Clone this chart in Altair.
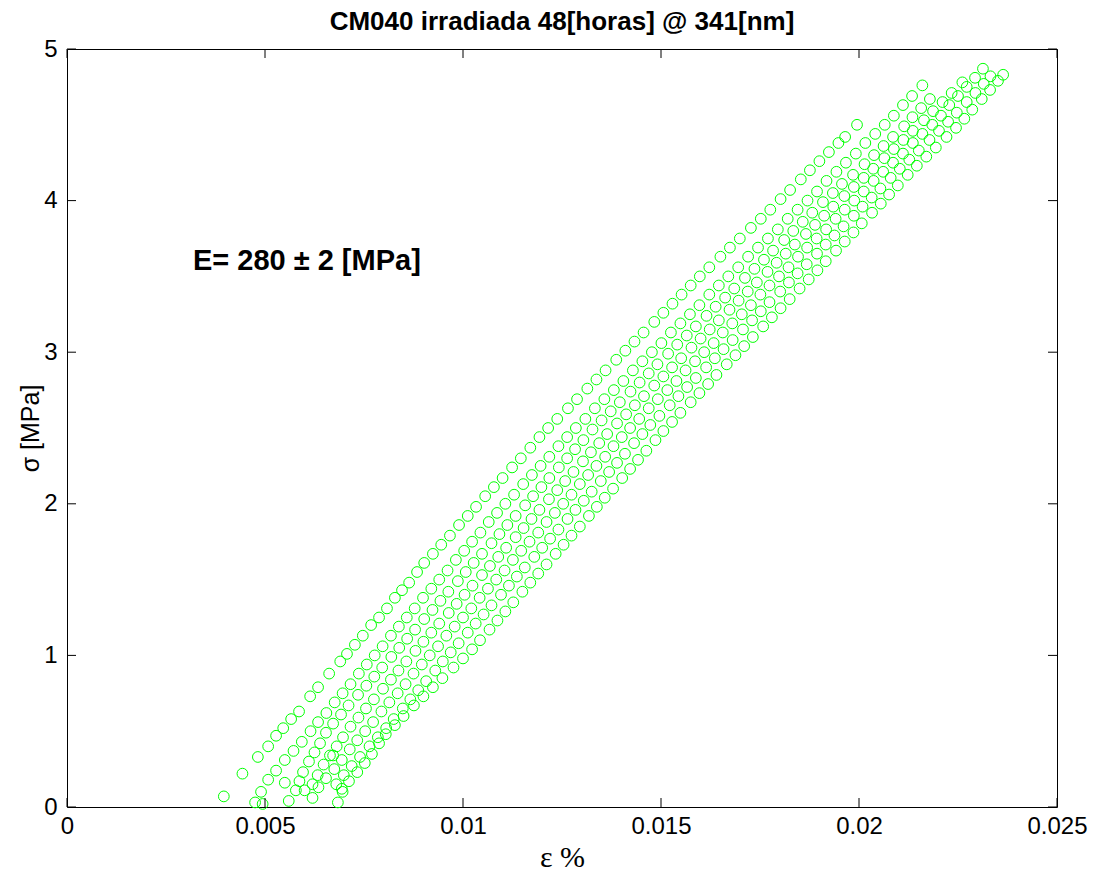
import altair as alt
import pandas as pd

title_text = "CM040 irradiada 48[horas] @ 341[nm]"
annotation_text = "E= 280 \u00b1 2 [MPa]"
x_label = "\u03b5 %"
y_label = "\u03c3 [MPa]"
x_ticks = [0, 0.005, 0.01, 0.015, 0.02, 0.025]
y_ticks = [0, 1, 2, 3, 4, 5]

# (strain, stress) read along each visible loading streak
streak_a = [(0.00396,0.07),(0.00443,0.22),(0.00482,0.33),(0.00508,0.40),(0.00528,0.47),(0.00546,0.52),
(0.00566,0.58),(0.00586,0.63),(0.00614,0.73),(0.00634,0.79),(0.00662,0.88),(0.00690,0.96),(0.00707,1.01),
(0.00727,1.07),(0.00747,1.13),(0.00768,1.20),(0.00788,1.25),(0.00808,1.31),(0.00828,1.38),(0.00846,1.43),
(0.00864,1.48),(0.00884,1.55),(0.00902,1.61),(0.00924,1.67),(0.00945,1.73),(0.00967,1.79),(0.00990,1.86),
(0.01012,1.92),(0.01033,1.98),(0.01056,2.05),(0.01078,2.11),(0.01100,2.17),(0.01124,2.24),(0.01146,2.30),
(0.01170,2.37),(0.01193,2.44),(0.01215,2.50),(0.01238,2.56),(0.01265,2.63),(0.01288,2.69),(0.01314,2.76),
(0.01337,2.82),(0.01360,2.88),(0.01387,2.95),(0.01410,3.01),(0.01433,3.07),(0.01456,3.13),(0.01483,3.20),
(0.01506,3.26),(0.01529,3.32),(0.01552,3.38),(0.01575,3.44),(0.01598,3.50),(0.01622,3.56),(0.01650,3.63),
(0.01674,3.69),(0.01699,3.75),(0.01727,3.82),(0.01752,3.88),(0.01776,3.94),(0.01802,4.01),(0.01826,4.07),
(0.01853,4.14),(0.01876,4.20),(0.01900,4.26),(0.01924,4.32),(0.01948,4.38),(0.01965,4.42),(0.01995,4.50)]

streak_b = [(0.00475,0.03),(0.00494,0.02),(0.00490,0.10),(0.00508,0.18),(0.00528,0.24),(0.00550,0.31),
(0.00572,0.37),(0.00593,0.43),(0.00615,0.50),(0.00634,0.56),(0.00655,0.62),(0.00676,0.69),(0.00696,0.75),
(0.00716,0.81),(0.00737,0.88),(0.00757,0.94),(0.00777,1.00),(0.00797,1.06),(0.00818,1.13),(0.00838,1.19),
(0.00858,1.25),(0.00878,1.31),(0.00899,1.38),(0.00920,1.44),(0.00940,1.50),(0.00961,1.56),(0.00982,1.63),
(0.01003,1.69),(0.01023,1.75),(0.01044,1.81),(0.01065,1.88),(0.01086,1.94),(0.01107,2.00),(0.01129,2.06),
(0.01152,2.13),(0.01174,2.19),(0.01196,2.25),(0.01218,2.31),(0.01241,2.38),(0.01263,2.44),(0.01285,2.50),
(0.01309,2.56),(0.01333,2.63),(0.01357,2.69),(0.01381,2.75),(0.01405,2.81),(0.01429,2.88),(0.01453,2.94),
(0.01477,3.00),(0.01501,3.06),(0.01525,3.13),(0.01549,3.19),(0.01573,3.25),(0.01597,3.31),(0.01622,3.38),
(0.01646,3.44),(0.01670,3.50),(0.01695,3.56),(0.01720,3.63),(0.01745,3.69),(0.01770,3.75),(0.01795,3.81),
(0.01820,3.88),(0.01845,3.94),(0.01870,4.00),(0.01894,4.06),(0.01918,4.13),(0.01943,4.19),(0.01967,4.25),
(0.01992,4.31),(0.02016,4.38),(0.02041,4.44),(0.02065,4.50),(0.02088,4.56),(0.02111,4.63),(0.02134,4.69),
(0.02160,4.76)]

streak_c = [(0.00560,0.04),(0.00578,0.11),(0.00587,0.17),(0.00596,0.23),(0.00611,0.30),(0.00625,0.36),
(0.00639,0.42),(0.00654,0.49),(0.00672,0.55),(0.00692,0.61),(0.00711,0.67),(0.00735,0.74),(0.00756,0.80),
(0.00776,0.86),(0.00796,0.92),(0.00819,0.99),(0.00839,1.05),(0.00859,1.11),(0.00879,1.17),(0.00902,1.24),
(0.00923,1.30),(0.00943,1.36),(0.00963,1.42),(0.00987,1.49),(0.01007,1.55),(0.01027,1.61),(0.01048,1.67),
(0.01072,1.74),(0.01092,1.80),(0.01112,1.86),(0.01133,1.92),(0.01157,1.99),(0.01177,2.05),(0.01198,2.11),
(0.01218,2.17),(0.01242,2.24),(0.01263,2.30),(0.01283,2.36),(0.01304,2.42),(0.01327,2.49),(0.01350,2.55),
(0.01373,2.61),(0.01396,2.67),(0.01423,2.74),(0.01446,2.80),(0.01469,2.86),(0.01491,2.92),(0.01518,2.99),
(0.01541,3.05),(0.01565,3.11),(0.01588,3.17),(0.01615,3.24),(0.01638,3.30),(0.01662,3.36),(0.01685,3.42),
(0.01712,3.49),(0.01736,3.55),(0.01760,3.61),(0.01783,3.67),(0.01811,3.74),(0.01834,3.80),(0.01858,3.86),
(0.01882,3.92),(0.01909,3.99),(0.01934,4.05),(0.01957,4.11),(0.01985,4.17),(0.02014,4.24),(0.02038,4.30),
(0.02062,4.36),(0.02086,4.42),(0.02114,4.49),(0.02135,4.55),(0.02157,4.61),(0.02179,4.67)]

streak_d = [(0.00620,0.15),(0.00633,0.21),(0.00648,0.28),(0.00664,0.34),(0.00681,0.40),(0.00697,0.46),
(0.00716,0.53),(0.00736,0.59),(0.00755,0.65),(0.00775,0.71),(0.00798,0.78),(0.00818,0.84),(0.00837,0.90),
(0.00857,0.96),(0.00880,1.03),(0.00900,1.09),(0.00920,1.15),(0.00940,1.21),(0.00964,1.28),(0.00984,1.34),
(0.01004,1.40),(0.01024,1.46),(0.01048,1.53),(0.01068,1.59),(0.01089,1.65),(0.01109,1.71),(0.01133,1.78),
(0.01153,1.84),(0.01173,1.90),(0.01193,1.96),(0.01217,2.03),(0.01238,2.09),(0.01258,2.15),(0.01279,2.21),
(0.01303,2.28),(0.01323,2.34),(0.01344,2.40),(0.01364,2.46),(0.01389,2.53),(0.01412,2.59),(0.01434,2.65),
(0.01457,2.71),(0.01483,2.78),(0.01506,2.84),(0.01528,2.90),(0.01551,2.96),(0.01577,3.03),(0.01600,3.09),
(0.01623,3.15),(0.01646,3.21),(0.01673,3.28),(0.01696,3.34),(0.01719,3.40),(0.01742,3.46),(0.01769,3.53),
(0.01792,3.59),(0.01815,3.65),(0.01838,3.71),(0.01866,3.78),(0.01889,3.84),(0.01912,3.90),(0.01935,3.96),
(0.01963,4.03),(0.01987,4.09),(0.02012,4.15),(0.02036,4.21),(0.02064,4.28),(0.02088,4.34),(0.02112,4.40),
(0.02136,4.46),(0.02164,4.53),(0.02187,4.59),(0.02211,4.65),(0.02234,4.71),(0.02261,4.78)]

streak_e = [(0.00620,0.06),(0.00635,0.13),(0.00654,0.19),(0.00675,0.25),(0.00694,0.31),(0.00714,0.38),
(0.00733,0.44),(0.00753,0.50),(0.00773,0.56),(0.00794,0.63),(0.00814,0.69),(0.00835,0.75),(0.00855,0.81),
(0.00875,0.88),(0.00896,0.94),(0.00916,1.00),(0.00937,1.06),(0.00958,1.13),(0.00979,1.19),(0.01000,1.25),
(0.01021,1.31),(0.01042,1.38),(0.01063,1.44),(0.01084,1.50),(0.01105,1.56),(0.01126,1.63),(0.01147,1.69),
(0.01168,1.75),(0.01190,1.81),(0.01211,1.88),(0.01232,1.94),(0.01253,2.00),(0.01274,2.06),(0.01295,2.13),
(0.01316,2.19),(0.01337,2.25),(0.01359,2.31),(0.01380,2.38),(0.01401,2.44),(0.01422,2.50),(0.01445,2.56),
(0.01469,2.63),(0.01492,2.69),(0.01516,2.75),(0.01539,2.81),(0.01562,2.88),(0.01586,2.94),(0.01609,3.00),
(0.01633,3.06),(0.01656,3.13),(0.01680,3.19),(0.01704,3.25),(0.01727,3.31),(0.01751,3.38),(0.01774,3.44),
(0.01798,3.50),(0.01822,3.56),(0.01846,3.63),(0.01869,3.69),(0.01893,3.75),(0.01917,3.81),(0.01941,3.88),
(0.01964,3.94),(0.01988,4.00),(0.02012,4.06),(0.02037,4.13),(0.02061,4.19),(0.02086,4.25),(0.02111,4.31),
(0.02136,4.38),(0.02160,4.44),(0.02185,4.50),(0.02207,4.56),(0.02228,4.63),(0.02250,4.69),(0.02272,4.75),
(0.02293,4.81),(0.02313,4.87)]

streak_f = [(0.00680,0.15),(0.00699,0.21),(0.00719,0.27),(0.00740,0.33),(0.00764,0.40),(0.00785,0.46),
(0.00806,0.52),(0.00825,0.58),(0.00848,0.65),(0.00867,0.71),(0.00887,0.77),(0.00907,0.83),(0.00930,0.90),
(0.00949,0.96),(0.00969,1.02),(0.00989,1.08),(0.01012,1.15),(0.01032,1.21),(0.01052,1.27),(0.01072,1.33),
(0.01096,1.40),(0.01116,1.46),(0.01136,1.52),(0.01156,1.58),(0.01180,1.65),(0.01200,1.71),(0.01220,1.77),
(0.01241,1.83),(0.01264,1.90),(0.01284,1.96),(0.01305,2.02),(0.01325,2.08),(0.01348,2.15),(0.01369,2.21),
(0.01389,2.27),(0.01409,2.33),(0.01432,2.40),(0.01453,2.46),(0.01473,2.52),(0.01496,2.58),(0.01522,2.65),
(0.01544,2.71),(0.01566,2.77),(0.01588,2.83),(0.01614,2.90),(0.01636,2.96),(0.01658,3.02),(0.01681,3.08),
(0.01707,3.15),(0.01730,3.21),(0.01752,3.27),(0.01774,3.33),(0.01801,3.40),(0.01823,3.46),(0.01845,3.52),
(0.01868,3.58),(0.01894,3.65),(0.01916,3.71),(0.01938,3.77),(0.01961,3.83),(0.01987,3.90),(0.02009,3.96),
(0.02032,4.02),(0.02054,4.08),(0.02080,4.15),(0.02103,4.21),(0.02127,4.27),(0.02151,4.33),(0.02178,4.40),
(0.02202,4.46),(0.02225,4.52),(0.02247,4.58),(0.02272,4.65),(0.02294,4.71),(0.02315,4.77),(0.02332,4.82)]

streak_g = [(0.00684,0.03),(0.00696,0.10),(0.00712,0.17),(0.00733,0.23),(0.00752,0.29),(0.00770,0.35),
(0.00788,0.42),(0.00805,0.48),(0.00828,0.54),(0.00850,0.60),(0.00876,0.67),(0.00900,0.73),(0.00924,0.79),
(0.00948,0.85),(0.00976,0.92),(0.01000,0.98),(0.01023,1.04),(0.01043,1.10),(0.01067,1.17),(0.01087,1.23),
(0.01107,1.29),(0.01127,1.35),(0.01150,1.42),(0.01170,1.48),(0.01190,1.54),(0.01211,1.60),(0.01234,1.67),
(0.01254,1.73),(0.01274,1.79),(0.01295,1.85),(0.01318,1.92),(0.01338,1.98),(0.01358,2.04),(0.01379,2.10),
(0.01402,2.17),(0.01422,2.23),(0.01442,2.29),(0.01463,2.35),(0.01486,2.42),(0.01506,2.48),(0.01528,2.54),
(0.01549,2.60),(0.01575,2.67),(0.01597,2.73),(0.01619,2.79),(0.01640,2.85),(0.01666,2.92),(0.01688,2.98),
(0.01710,3.04),(0.01732,3.10),(0.01758,3.17),(0.01780,3.23),(0.01802,3.29),(0.01825,3.35),(0.01850,3.42),
(0.01873,3.48),(0.01895,3.54),(0.01916,3.60),(0.01942,3.67),(0.01964,3.73),(0.01986,3.79),(0.02007,3.85),
(0.02033,3.92),(0.02055,3.98),(0.02076,4.04),(0.02098,4.10),(0.02123,4.17),(0.02146,4.23),(0.02170,4.29),
(0.02194,4.35),(0.02221,4.42),(0.02245,4.48),(0.02266,4.54),(0.02286,4.60),(0.02310,4.67),(0.02331,4.73),
(0.02351,4.79),(0.02364,4.83)]

extra_points = [(0.00550,0.16),(0.00600,0.11),(0.00694,0.12),(0.00672,0.34)]

rows = []
for name, pts in [("a", streak_a), ("b", streak_b), ("c", streak_c), ("d", streak_d),
                  ("e", streak_e), ("f", streak_f), ("g", streak_g), ("x", extra_points)]:
    for sx, sy in pts:
        rows.append({"strain": sx, "stress": sy, "cycle": name})
df = pd.DataFrame(rows)

W, H = 990, 758
FONT = "Liberation Sans"
xs = alt.Scale(domain=[0, 0.025], nice=False, zero=False)
ys = alt.Scale(domain=[0, 5], nice=False, zero=False)

x_axis = alt.Axis(
    values=x_ticks, format="~g", title=x_label, domain=False, ticks=False, grid=False,
    labelFlush=False, labelOverlap=False,
    labelFont=FONT, labelFontSize=24, labelColor="black", labelPadding=7,
    titleFont="Liberation Serif", titleFontSize=30, titleFontWeight="normal", titleColor="black",
    titleY=50, titleBaseline="middle")
y_axis = alt.Axis(
    values=y_ticks, format="~g", title=y_label, domain=False, ticks=False, grid=False,
    labelFlush=False, labelOverlap=False,
    labelFont=FONT, labelFontSize=24, labelColor="black", labelPadding=10,
    titleFont=FONT, titleFontSize=25, titleFontWeight="normal", titleColor="black",
    titleX=-37, titleY=H / 2, titleAngle=-90, titleBaseline="middle", titleAlign="center")

points = alt.Chart(df).mark_point(
    shape="circle", filled=False, color="#00ff00", size=115, strokeWidth=1, opacity=1, clip=False
).encode(
    x=alt.X("strain:Q", scale=xs, axis=x_axis, title=x_label),
    y=alt.Y("stress:Q", scale=ys, axis=y_axis, title=y_label),
)

xt = pd.DataFrame({"strain": x_ticks})
yt = pd.DataFrame({"stress": y_ticks})
tick_bottom = alt.Chart(xt).mark_rule(color="black", strokeWidth=1).encode(
    x=alt.X("strain:Q", scale=xs, axis=x_axis, title=x_label), y=alt.value(H), y2=alt.value(H - 9))
tick_top = alt.Chart(xt).mark_rule(color="black", strokeWidth=1).encode(
    x=alt.X("strain:Q", scale=xs, axis=x_axis, title=x_label), y=alt.value(0), y2=alt.value(9))
tick_left = alt.Chart(yt).mark_rule(color="black", strokeWidth=1).encode(
    y=alt.Y("stress:Q", scale=ys, axis=y_axis, title=y_label), x=alt.value(0), x2=alt.value(9))
tick_right = alt.Chart(yt).mark_rule(color="black", strokeWidth=1).encode(
    y=alt.Y("stress:Q", scale=ys, axis=y_axis, title=y_label), x=alt.value(W), x2=alt.value(W - 9))

annot = alt.Chart(pd.DataFrame({"t": [annotation_text]})).mark_text(
    align="left", baseline="middle", fontSize=29, fontWeight="bold", font=FONT, color="black"
).encode(x=alt.datum(0.00318), y=alt.datum(3.6), text="t:N")

title = alt.Chart(pd.DataFrame({"t": [title_text]})).mark_text(
    align="center", baseline="middle", fontSize=26, fontWeight="bold", font=FONT, color="black"
).encode(x=alt.value(W / 2), y=alt.value(-27), text="t:N")

chart = alt.layer(points, tick_bottom, tick_top, tick_left, tick_right, annot, title).properties(
    width=W, height=H,
    padding={"left": 67, "top": 49, "right": 44, "bottom": 66},
    autosize=alt.AutoSizeParams(type="none"),
).configure(background="white").configure_view(stroke="black", strokeWidth=1)

chart.save("out.html", embed_options={"renderer": "svg", "actions": False})
